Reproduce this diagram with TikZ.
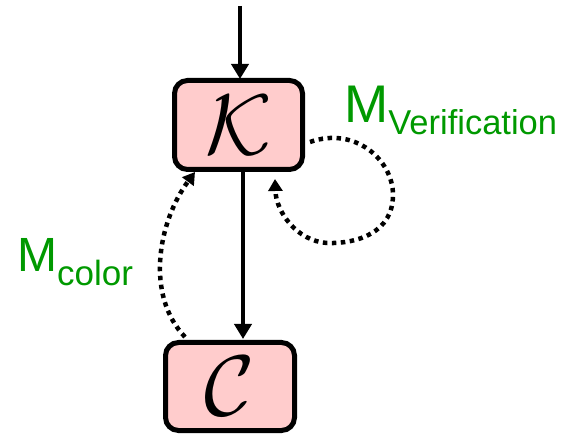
\documentclass[tikz,border=0pt]{standalone}
\usepackage{fontspec}
\usepackage{graphicx}
\setmainfont{Liberation Sans}
\usetikzlibrary{arrows.meta}
\definecolor{boxpink}{RGB}{255,204,204}
\definecolor{labgreen}{RGB}{0,153,0}
\begin{document}
\begin{tikzpicture}[x=1pt,y=-1pt,
  statebox/.style={draw=black, fill=boxpink, line width=5pt, rounded corners=13pt, inner sep=0pt},
  solidarrow/.style={line width=4.5pt, -{Triangle[length=15pt,width=17pt]}},
  dotarrow/.style={line width=4.5pt, dash pattern=on 4.5pt off 4.5pt, -{Triangle[length=12pt,width=14pt]}},
  lab/.style={text=labgreen, inner sep=0pt, anchor=base west}]
\useasboundingbox (0,0) rectangle (562,435);
\node[statebox, minimum width=128pt, minimum height=89pt] (K) at (238.5,125) {\scalebox{8.6}{$\mathcal{K}$}};
\node[statebox, minimum width=129pt, minimum height=88pt] (C) at (230,386.5) {\scalebox{8.6}{$\mathcal{C}$}};
\coordinate (in) at (240,6);
\draw[solidarrow] (in) -- (240,79);
\draw[solidarrow] (K.south -| 243,0) -- (243,339);
% loop on K
\coordinate (ls) at (310,142);
\coordinate (le) at (275,179);
\draw[dotarrow] (ls) .. controls (355,126) and (393,160) .. (393,195)
  .. controls (393,232) and (358,244) .. (327,243)
  .. controls (297,241) and (276,212) .. (le);
% C to K
\coordinate (cs) at (185,337);
\coordinate (ce) at (195,172);
\draw[dotarrow] (cs) .. controls (145,295) and (158,222) .. (ce);
\node[lab] (mv) at (344,123) {\fontsize{53}{53}\selectfont M\raisebox{-12pt}{\fontsize{34.5}{34.5}\selectfont Verification}};
\node[lab] (mc) at (17,272) {\fontsize{48}{48}\selectfont M\raisebox{-14pt}{\fontsize{35}{35}\selectfont color}};
\end{tikzpicture}
\end{document}
